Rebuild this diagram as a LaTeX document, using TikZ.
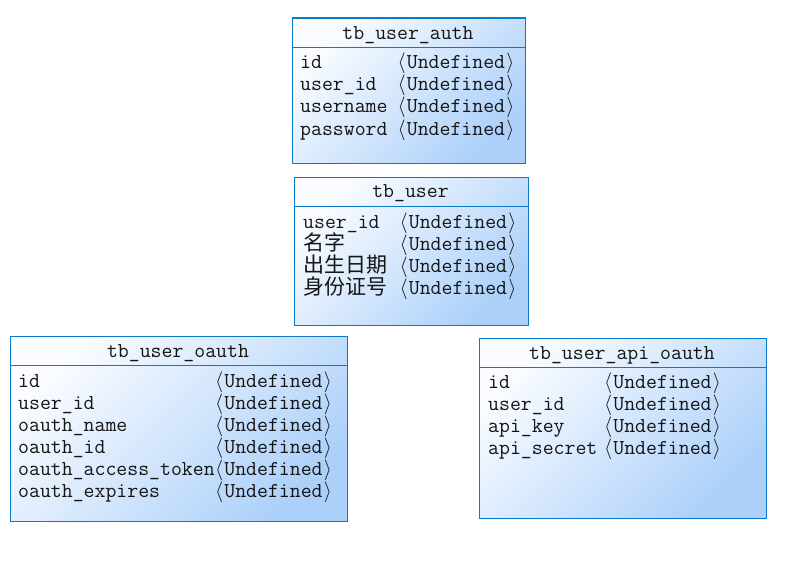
\documentclass[tikz,border=0pt]{standalone}
\usepackage{fontspec}
\newfontfamily\cjk{Noto Sans CJK SC}
\definecolor{ebord}{RGB}{8,122,200}
\definecolor{etop}{RGB}{250,252,255}
\definecolor{ebot}{RGB}{172,208,250}
\definecolor{etext}{RGB}{20,20,20}
\newcommand\undef{\kern1.3pt$\langle$\kern1.3pt Undefined\kern1.3pt$\rangle$}
\begin{document}
\begin{tikzpicture}[x=1pt,y=-1pt,
  ent/.style={draw=ebord, line width=1.4pt, top color=etop, bottom color=ebot,
    shading angle=45, inner sep=0pt, anchor=north west},
  sepline/.style={draw=ebord, line width=1.4pt},
  txt/.style={anchor=base west, inner sep=0pt, text=etext,
    font=\ttfamily\fontsize{21.2}{22}\selectfont},
  cjktxt/.style={anchor=base west, inner sep=0pt, text=etext,
    font=\cjk\fontsize{21}{22}\selectfont},
  ttl/.style={anchor=base, inner sep=0pt, text=etext,
    font=\ttfamily\fontsize{21.2}{22}\selectfont}]
\useasboundingbox (0,0) rectangle (799,567);

% ---- tb_user_auth
\node[ent, minimum width=233pt, minimum height=145pt] (auth) at (291.5,17.5) {};
\draw[sepline] (auth.west |- 0,47.3) -- (auth.east |- 0,47.3);
\node[ttl] (authT) at (408,40) {tb\_user\_auth};
\foreach \n/\nm [count=\i from 0] in {a1/id, a2/user\_id, a3/username, a4/password}{
  \node[txt] (auth-\n) at (300,69+22*\i) {\nm};
  \node[txt] (auth-\n-t) at (396,69+22*\i) {\undef};
}

% ---- tb_user
\node[ent, minimum width=234pt, minimum height=148pt] (user) at (293.5,177) {};
\draw[sepline] (user.west |- 0,206.7) -- (user.east |- 0,206.7);
\node[ttl] (userT) at (410.5,197.7) {tb\_user};
\node[txt] (user-u1) at (303,228) {user\_id};
\node[cjktxt] (user-u2) at (303,250) {名字};
\node[cjktxt] (user-u3) at (303,272) {出生日期};
\node[cjktxt] (user-u4) at (303,294) {身份证号};
\foreach \i in {0,1,2,3}{
  \node[txt] (user-t\i) at (398,228+22*\i) {\undef};
}

% ---- tb_user_oauth
\node[ent, minimum width=337pt, minimum height=185pt] (oauth) at (9.5,336) {};
\draw[sepline] (oauth.west |- 0,365.5) -- (oauth.east |- 0,365.5);
\node[ttl] (oauthT) at (178,357) {tb\_user\_oauth};
\foreach \n/\nm [count=\i from 0] in {o1/id, o2/user\_id, o3/oauth\_name, o4/oauth\_id, o5/oauth\_access\_token, o6/oauth\_expires}{
  \node[txt] (oauth-\n) at (18,387+22*\i) {\nm};
  \node[txt] (oauth-\n-t) at (213.5,387+22*\i) {\undef};
}

% ---- tb_user_api_oauth
\node[ent, minimum width=286.5pt, minimum height=180pt] (api) at (479,337.5) {};
\draw[sepline] (api.west |- 0,367.5) -- (api.east |- 0,367.5);
\node[ttl] (apiT) at (622,359) {tb\_user\_api\_oauth};
\foreach \n/\nm [count=\i from 0] in {p1/id, p2/user\_id, p3/api\_key, p4/api\_secret}{
  \node[txt] (api-\n) at (488,388+22*\i) {\nm};
  \node[txt] (api-\n-t) at (602.5,388+22*\i) {\undef};
}
\end{tikzpicture}
\end{document}
